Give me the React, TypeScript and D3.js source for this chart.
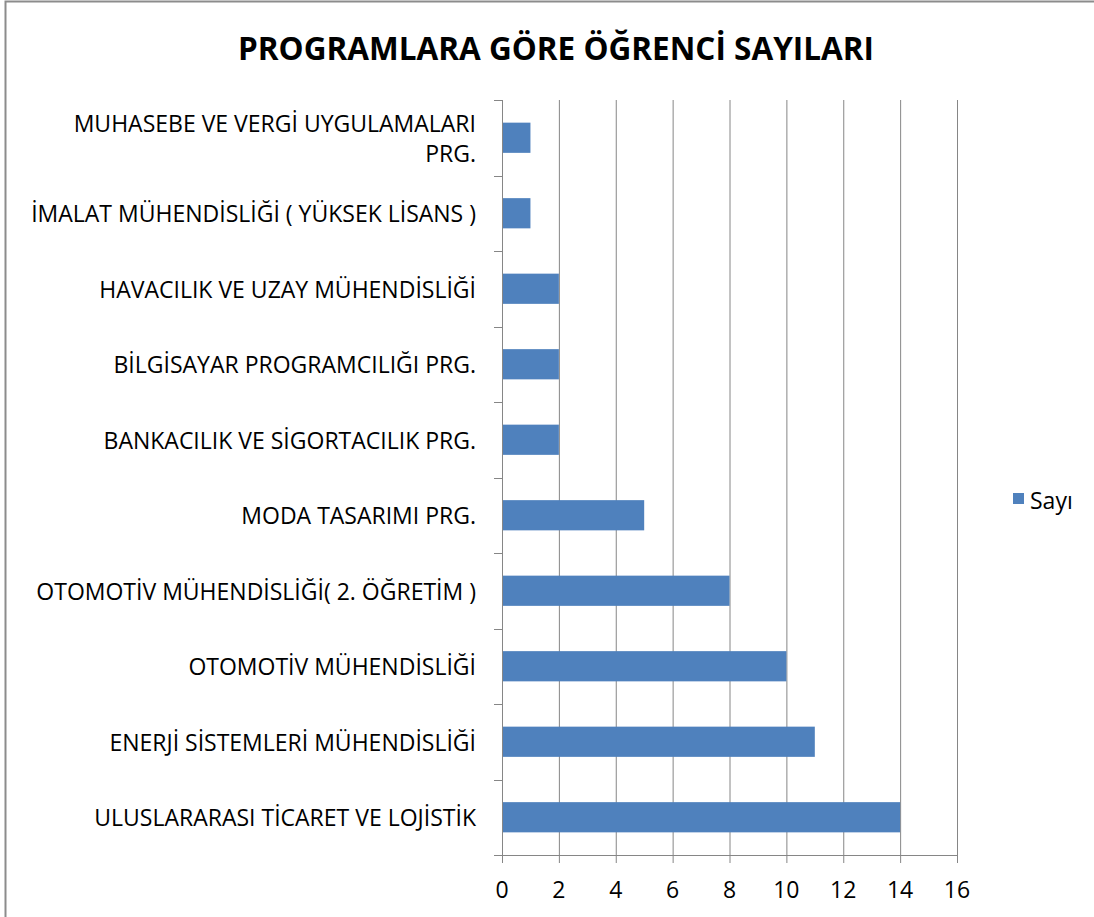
import React, { useEffect, useRef } from 'react';
import * as d3 from 'd3';

const categories = [
  'MUHASEBE VE VERGİ UYGULAMALARI PRG.',
  'İMALAT MÜHENDİSLİĞİ ( YÜKSEK LİSANS )',
  'HAVACILIK VE UZAY MÜHENDİSLİĞİ',
  'BİLGİSAYAR PROGRAMCILIĞI PRG.',
  'BANKACILIK VE SİGORTACILIK PRG.',
  'MODA TASARIMI PRG.',
  'OTOMOTİV MÜHENDİSLİĞİ( 2. ÖĞRETİM )',
  'OTOMOTİV MÜHENDİSLİĞİ',
  'ENERJİ SİSTEMLERİ MÜHENDİSLİĞİ',
  'ULUSLARARASI TİCARET VE LOJİSTİK',
];
const values = [1, 1, 2, 2, 2, 5, 8, 10, 11, 14];
const xTicks = [0, 2, 4, 6, 8, 10, 12, 14, 16];
const seriesName = 'Sayı';
const title = 'PROGRAMLARA GÖRE ÖĞRENCİ SAYILARI';

// label lines that Excel wrapped
const labelLines: Record<string, string[]> = {
  'MUHASEBE VE VERGİ UYGULAMALARI PRG.': ['MUHASEBE VE VERGİ UYGULAMALARI', 'PRG.'],
};

const W = 1094;
const H = 917;
const FONT = '"Open Sans", "DejaVu Sans", sans-serif';

const App: React.FC = () => {
  const svgRef = useRef<SVGSVGElement>(null);

  useEffect(() => {
    if (!svgRef.current) return;
    const svg = d3.select(svgRef.current);
    svg.selectAll('*').remove();

    const left = 502, right = 957, top = 100, bottom = 855;
    const gridColor = '#868686';
    const barColor = '#4F81BD';

    // chart frame
    svg.append('rect')
      .attr('x', 5.5).attr('y', 1.5)
      .attr('width', W + 10).attr('height', H + 10)
      .attr('fill', 'white')
      .attr('stroke', '#8c8c8c').attr('stroke-width', 2);

    const x = d3.scaleLinear().domain([0, 16]).range([left, right]);
    const y = d3.scaleBand<string>().domain(categories).range([top, bottom]).paddingInner(0.6).paddingOuter(0.3);
    const band = d3.scaleBand<string>().domain(categories).range([top, bottom]);

    // vertical gridlines
    svg.append('g').selectAll('line').data(xTicks.slice(1)).enter().append('line')
      .attr('x1', d => x(d) + 0.5).attr('x2', d => x(d) + 0.5)
      .attr('y1', top).attr('y2', bottom)
      .attr('stroke', gridColor).attr('stroke-width', 1);

    // bars
    svg.append('g').selectAll('rect').data(categories).enter().append('rect')
      .attr('x', x(0))
      .attr('y', d => y(d)!)
      .attr('width', (d, i) => x(values[i]) - x(0))
      .attr('height', y.bandwidth())
      .attr('fill', barColor);

    // y axis
    const yAxisG = svg.append('g');
    yAxisG.append('line')
      .attr('x1', left + 0.5).attr('x2', left + 0.5)
      .attr('y1', top).attr('y2', bottom)
      .attr('stroke', gridColor);
    const yTickPos = categories.map(c => band(c)!).concat([bottom]);
    yAxisG.selectAll('line.tk').data(yTickPos).enter().append('line')
      .attr('class', 'tk')
      .attr('x1', left - 8).attr('x2', left)
      .attr('y1', d => Math.round(d) + 0.5).attr('y2', d => Math.round(d) + 0.5)
      .attr('stroke', gridColor);

    // y labels
    const labels = svg.append('g')
      .style('font-family', FONT).style('font-size', '23px').style('fill', '#000');
    categories.forEach(c => {
      const lines = labelLines[c] || [c];
      const cy = band(c)! + band.bandwidth() / 2;
      const lh = 30;
      lines.forEach((ln, j) => {
        labels.append('text')
          .attr('x', 476)
          .attr('y', cy + (j - (lines.length - 1) / 2) * lh)
          .attr('text-anchor', 'end')
          .attr('dominant-baseline', 'central')
          .text(ln);
      });
    });

    // x axis
    const xAxisG = svg.append('g');
    xAxisG.append('line')
      .attr('x1', left - 8).attr('x2', right)
      .attr('y1', bottom + 0.5).attr('y2', bottom + 0.5)
      .attr('stroke', gridColor);
    xAxisG.selectAll('line.tk').data(xTicks).enter().append('line')
      .attr('class', 'tk')
      .attr('x1', d => x(d) + 0.5).attr('x2', d => x(d) + 0.5)
      .attr('y1', bottom).attr('y2', bottom + 8)
      .attr('stroke', gridColor);
    xAxisG.selectAll('text').data(xTicks).enter().append('text')
      .attr('x', d => x(d))
      .attr('y', 889)
      .attr('text-anchor', 'middle')
      .attr('dominant-baseline', 'central')
      .style('font-family', FONT).style('font-size', '23px')
      .text(d => String(d));

    // title
    svg.append('text')
      .attr('x', 556).attr('y', 47)
      .attr('text-anchor', 'middle')
      .attr('dominant-baseline', 'central')
      .style('font-family', FONT).style('font-size', '31.5px').style('font-weight', 'bold')
      .text(title);

    // legend
    svg.append('rect')
      .attr('x', 1013).attr('y', 493).attr('width', 11).attr('height', 11)
      .attr('fill', barColor);
    svg.append('text')
      .attr('x', 1030).attr('y', 500)
      .attr('dominant-baseline', 'central')
      .style('font-family', FONT).style('font-size', '23px')
      .text(seriesName);
  }, []);

  return (
    <svg
      ref={svgRef}
      width={W}
      height={H}
      style={{ position: 'absolute', left: 0, top: 0, display: 'block' }}
    />
  );
};

export default App;
